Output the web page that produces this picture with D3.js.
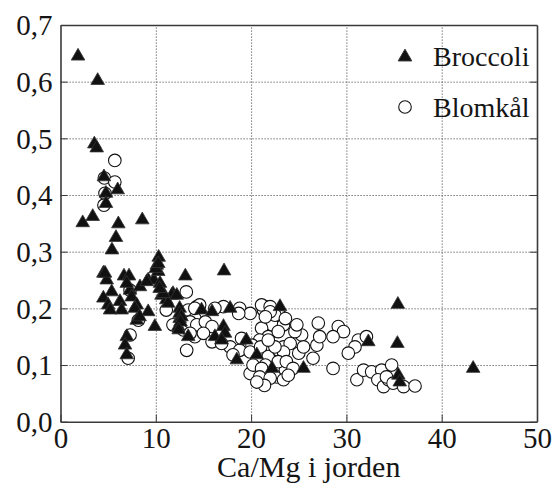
<!DOCTYPE html>
<html>
  <head>
    <style>
    body {
        margin: 0px;
        overflow: hidden;
        background: #fff;
    }
    .grid line {
        stroke: #555;
        stroke-width: 1;
        stroke-dasharray: 1.2, 1.8;
    }
    .frame line, .frame path {
        stroke: #3a3a3a;
    }
    </style>
    <script src="https://d3js.org/d3.v7.min.js"></script>
  </head>
  <body>
    <svg width="555" height="490"></svg>
    <script>
    // Broccoli (triangles)
    const broccoliX = [1.84, 3.9, 3.55, 3.8, 4.56, 4.77, 6.0, 4.77, 2.33, 3.38, 6.07, 8.58, 5.82, 5.4,
        10.3, 10.1, 4.5, 13.1, 6.66, 7.19, 4.85, 5.37, 4.5, 5.0, 6.24, 6.42, 7.29, 7.47, 8.0, 8.34,
        9.2, 9.8, 10.26, 10.44, 10.6, 11.1, 11.8, 9.2, 9.9, 8.0, 12.5, 12.5, 12.36, 13.4, 6.95, 6.77,
        6.95, 6.95, 9.05, 5.2, 7.8, 11.67, 11.3, 12.5, 8.3, 4.67, 10.0, 17.16, 10.8, 12.7, 14.8, 15.9,
        17.8, 17.1, 17.26, 16.2, 16.9, 19.5, 18.5, 20.6, 22.2, 23.03, 25.5, 32.3, 35.4, 35.35, 43.3,
        35.45, 35.6, 12.2, 12.6, 12.4, 10.4, 10.26];
    const broccoliY = [0.645, 0.602, 0.49, 0.483, 0.432, 0.403, 0.409, 0.385, 0.351, 0.362, 0.349, 0.356, 0.325, 0.303,
        0.29, 0.276, 0.262, 0.257, 0.257, 0.257, 0.25, 0.229, 0.218, 0.206, 0.212, 0.197, 0.232, 0.22, 0.206, 0.238,
        0.25, 0.25, 0.265, 0.244, 0.223, 0.215, 0.226, 0.194, 0.168, 0.179, 0.2, 0.182, 0.168, 0.15, 0.15, 0.135,
        0.118, 0.244, 0.247, 0.197, 0.2, 0.223, 0.209, 0.191, 0.185, 0.262, 0.27, 0.266, 0.226, 0.185, 0.197, 0.194,
        0.2, 0.168, 0.156, 0.15, 0.144, 0.144, 0.109, 0.118, 0.094, 0.203, 0.094, 0.141, 0.207, 0.138, 0.094,
        0.082, 0.07, 0.223, 0.176, 0.162, 0.235, 0.279];

    // Blomkål (open circles)
    const blomkalX = [5.7, 4.6, 5.7, 4.67, 4.56, 13.2, 13.4, 11.1, 14.3, 12.2, 14.1, 13.24, 7.1, 7.3, 8.17, 7.3,
        11.8, 14.6, 17.1, 18.8, 19.9, 21.5, 14.1, 14.1, 12.9, 13.6, 14.3, 15.2, 15.9, 16.2, 15.0, 15.9,
        17.8, 18.8, 18.1, 18.7, 21.3, 22.0, 22.2, 23.2, 23.4, 21.1, 21.8, 22.85, 20.9, 20.1, 19.9, 21.0,
        20.6, 21.8, 22.9, 23.4, 19.9, 21.3, 22.7, 23.6, 20.2, 21.5, 21.1, 22.0, 22.5, 23.6, 25.3, 24.6,
        24.1, 25.0, 23.4, 22.5, 21.8, 22.85, 23.7, 24.4, 21.1, 20.9, 22.0, 23.4, 23.9, 27.05, 26.5, 26.9,
        29.15, 29.7, 28.6, 27.2, 31.25, 32.1, 30.9, 30.2, 28.6, 31.1, 31.8, 32.65, 33.7, 33.3, 33.9, 34.4,
        34.9, 34.75, 34.2, 34.9, 36.0, 37.2, 24.8, 25.5, 21.4, 20.6, 19.0, 16.9, 13.6, 22.0, 21.5];
    const blomkalY = [0.461, 0.43, 0.423, 0.403, 0.382, 0.229, 0.197, 0.197, 0.203, 0.168, 0.15, 0.126, 0.112, 0.153, 0.179, 0.232,
        0.171, 0.206, 0.203, 0.2, 0.191, 0.203, 0.182, 0.2, 0.162, 0.176, 0.171, 0.176, 0.168, 0.2, 0.156, 0.141,
        0.132, 0.126, 0.118, 0.191, 0.197, 0.185, 0.171, 0.185, 0.171, 0.165, 0.15, 0.159, 0.144, 0.135, 0.123, 0.132,
        0.109, 0.115, 0.126, 0.132, 0.085, 0.085, 0.079, 0.091, 0.1, 0.1, 0.206, 0.203, 0.188, 0.182, 0.153, 0.159,
        0.138, 0.121, 0.123, 0.132, 0.144, 0.106, 0.106, 0.094, 0.094, 0.079, 0.077, 0.074, 0.082, 0.174, 0.112, 0.135,
        0.168, 0.159, 0.15, 0.15, 0.144, 0.15, 0.132, 0.121, 0.094, 0.074, 0.091, 0.088, 0.091, 0.074, 0.062, 0.074,
        0.085, 0.1, 0.079, 0.068, 0.062, 0.063, 0.171, 0.132, 0.064, 0.07, 0.147, 0.138, 0.156, 0.194, 0.185];

    const xTicks = [0, 10, 20, 30, 40, 50];
    const yTicks = [0, 0.1, 0.2, 0.3, 0.4, 0.5, 0.6, 0.7];
    const seriesNames = ['Broccoli', 'Blomkål'];
    const xAxisLabel = 'Ca/Mg i jorden';

    const serif = '"Liberation Serif"';
    const ink = '#151515';

    const svg = d3.select('svg');
    const width = +svg.attr('width');
    const height = +svg.attr('height');

    const margin = { top: 25, right: 18, bottom: 68.3, left: 60.5 };
    const innerWidth = width - margin.left - margin.right;
    const innerHeight = height - margin.top - margin.bottom;

    const xScale = d3.scaleLinear().domain([0, 50]).range([0, innerWidth]);
    const yScale = d3.scaleLinear().domain([0, 0.7]).range([innerHeight, 0]);

    const g = svg.append('g')
        .attr('transform', `translate(${margin.left},${margin.top})`);

    // dotted grid
    g.append('g').attr('class', 'grid')
        .attr('transform', `translate(0,${innerHeight})`)
        .call(d3.axisBottom(xScale).tickValues(xTicks.slice(1, -1)).tickSize(-innerHeight).tickFormat(''))
        .call(a => a.select('.domain').remove())
        .call(a => a.selectAll('text').remove());
    g.append('g').attr('class', 'grid')
        .call(d3.axisLeft(yScale).tickValues(yTicks.slice(1, -1)).tickSize(-innerWidth).tickFormat(''))
        .call(a => a.select('.domain').remove())
        .call(a => a.selectAll('text').remove());

    // frame with inward ticks
    const fmt = d => d3.format('.1f')(d).replace('.', ',');
    const tickLen = 7;

    const yAxisG = g.append('g').attr('class', 'frame')
        .call(d3.axisLeft(yScale).tickValues(yTicks).tickSizeInner(-tickLen).tickSizeOuter(0)
            .tickPadding(8).tickFormat(fmt));
    yAxisG.attr('font-family', null).attr('font-size', null);
    yAxisG.selectAll('text')
        .attr('dy', '0.34em')
        .style('font-family', serif).style('font-size', '29px').style('fill', ink);

    g.append('g').attr('class', 'frame')
        .attr('transform', `translate(${innerWidth},0)`)
        .call(d3.axisRight(yScale).tickValues(yTicks).tickSizeInner(-tickLen).tickSizeOuter(0).tickFormat(''))
        .call(a => a.selectAll('text').remove());

    const xAxisG = g.append('g').attr('class', 'frame')
        .attr('transform', `translate(0,${innerHeight})`)
        .call(d3.axisBottom(xScale).tickValues(xTicks).tickSizeInner(-tickLen).tickSizeOuter(0)
            .tickPadding(6).tickFormat(d3.format('d')));
    xAxisG.attr('font-family', null).attr('font-size', null);
    xAxisG.selectAll('text')
        .style('font-family', serif).style('font-size', '29px').style('fill', ink);

    g.append('g').attr('class', 'frame')
        .call(d3.axisTop(xScale).tickValues(xTicks).tickSizeInner(0).tickSizeOuter(0).tickFormat(''))
        .call(a => a.selectAll('text').remove());

    g.selectAll('.frame .domain').attr('stroke-width', 1.6);

    // axis title
    svg.append('text')
        .attr('x', margin.left + innerWidth / 2 + 10)
        .attr('y', margin.top + innerHeight + 55)
        .attr('text-anchor', 'middle')
        .style('font-family', serif).style('font-size', '30px').style('fill', ink)
        .text(xAxisLabel);

    // points
    const blomkal = blomkalX.map((x, i) => ({ x, y: blomkalY[i] }));
    const broccoli = broccoliX.map((x, i) => ({ x, y: broccoliY[i] }));

    g.append('g').selectAll('circle').data(blomkal)
        .enter().append('circle')
        .attr('cx', d => xScale(d.x))
        .attr('cy', d => yScale(d.y))
        .attr('r', 6.3)
        .attr('fill', 'white')
        .attr('stroke', '#111')
        .attr('stroke-width', 1.1);

    const tri = d3.symbol().type(d3.symbolTriangle).size(80);

    g.append('g').selectAll('path').data(broccoli)
        .enter().append('path')
        .attr('d', tri)
        .attr('transform', d => `translate(${xScale(d.x)},${yScale(d.y)})`)
        .attr('fill', '#111')
        .attr('stroke', '#333')
        .attr('stroke-width', 0.8);

    // legend
    const legend = svg.append('g');
    legend.append('path')
        .attr('d', tri)
        .attr('transform', 'translate(405,57)')
        .attr('fill', '#111')
        .attr('stroke', '#333');
    legend.append('circle')
        .attr('cx', 405).attr('cy', 107).attr('r', 6.3)
        .attr('fill', 'white').attr('stroke', '#111').attr('stroke-width', 1.1);
    legend.selectAll('text').data(seriesNames)
        .enter().append('text')
        .attr('x', 433)
        .attr('y', (d, i) => 66 + i * 51)
        .style('font-family', serif).style('font-size', '28px').style('fill', ink)
        .text(d => d);
    </script>
  </body>
</html>
